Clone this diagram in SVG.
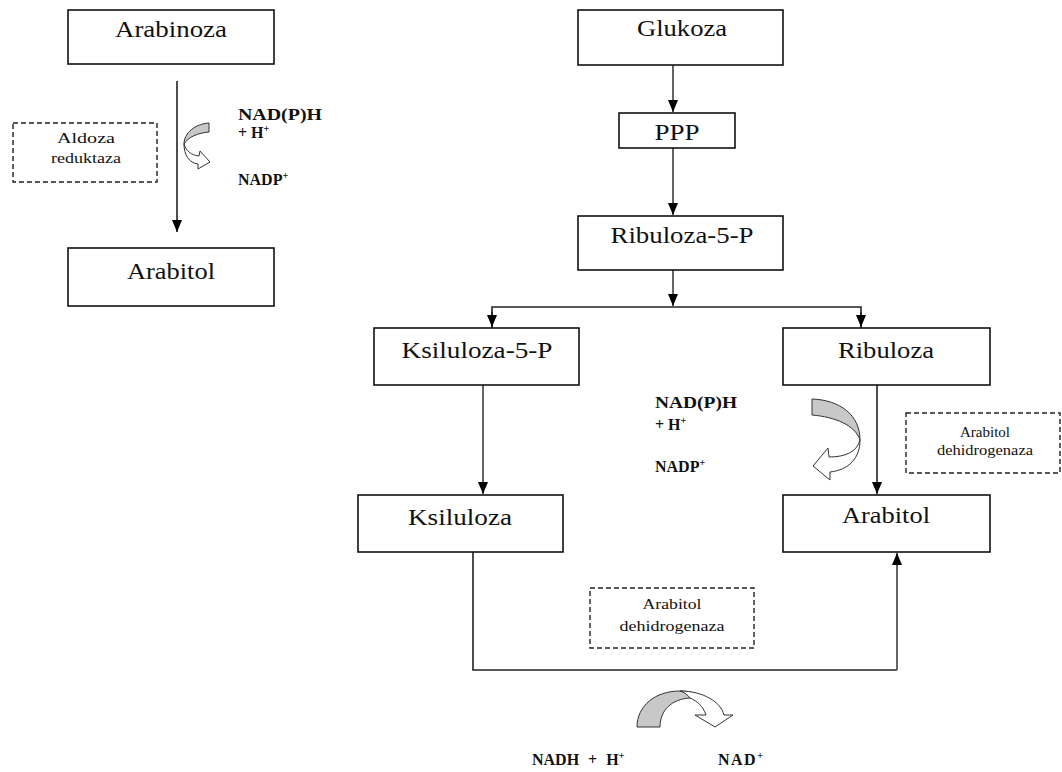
<svg xmlns="http://www.w3.org/2000/svg" width="1062" height="772" viewBox="0 0 1062 772">
<style>
.box{fill:#fff;stroke:#111;stroke-width:1.6}
.dash{fill:#fff;stroke:#222;stroke-width:1.4;stroke-dasharray:5 3}
text{font-family:"Liberation Serif","DejaVu Serif","Noto Serif",serif;fill:#111}
.lbl{font-size:23px;text-anchor:middle}
.sm{font-size:16px;font-weight:bold}
.en{font-size:14px;text-anchor:middle}
.ln{fill:none;stroke:#222;stroke-width:1.6}
.lng{fill:none;stroke:#555;stroke-width:1.8}
.cg{fill:#c8c8c8;stroke:#333;stroke-width:1}
.cw{fill:#fff;stroke:#333;stroke-width:1}
</style>
<defs>
<marker id="ah" viewBox="0 0 12 10" refX="12" refY="5" markerWidth="12" markerHeight="10" markerUnits="userSpaceOnUse" orient="auto">
<path d="M0,0 L12,5 L0,10 Z" fill="#000"/>
</marker>
</defs>

<g id="connectors">
<line class="ln" x1="177" y1="81" x2="177" y2="232" stroke-width="2" marker-end="url(#ah)"/>
<line class="lng" x1="673" y1="65" x2="673" y2="112" marker-end="url(#ah)"/>
<line class="lng" x1="673" y1="148" x2="673" y2="215" marker-end="url(#ah)"/>
<line class="lng" x1="673" y1="270" x2="673" y2="306" marker-end="url(#ah)"/>
<polyline class="ln" points="492,328 492,307 861,307 861,328"/>
<line class="ln" x1="492" y1="312" x2="492" y2="327" marker-end="url(#ah)"/>
<line class="ln" x1="861" y1="312" x2="861" y2="327" marker-end="url(#ah)"/>
<line class="lng" x1="483" y1="385" x2="483" y2="494" marker-end="url(#ah)"/>
<line class="ln" x1="877" y1="385" x2="877" y2="494" marker-end="url(#ah)"/>
<polyline class="ln" points="473,552 473,670 897,670"/>
<line class="lng" x1="897" y1="670" x2="897" y2="553" stroke-width="2.2" marker-end="url(#ah)"/>
<path class="cg" d="M209,123 L209,132 C198,133 188,137 184,144 C184,133 195,124 209,123 Z"/>
<path class="cw" d="M184,144 C186,151 191,155 199,156 L200,151 L210,162 L198,169 L198,164 C189,163 184,155 184,144 Z"/>
<path class="cg" d="M812,399 L812,415 C835,417 855,425 860,440 C860,415 840,400 812,399 Z"/>
<path class="cw" d="M860,440 C857,452 845,457 829,457 L828,448 L813,466 L830,480 L830,472 C849,470 860,458 860,440 Z"/>
<path class="cg" d="M637,727 L660,727 C660,710 672,699 690,698 C697,698 703,699 708,702 C700,694 690,691 680,691 C655,691 637,706 637,727 Z"/>
<path class="cw" d="M680,691 C703,691 721,702 724,715 L733,715 L715,727 L695,715 L706,715 C703,706 697,701 690,698 C688,695 684,692 680,691 Z"/>
</g>

<g id="arabinoza"><rect class="box" x="68" y="10" width="206" height="54"/><text class="lbl" x="171" y="37" textLength="112" lengthAdjust="spacingAndGlyphs">Arabinoza</text></g>
<g id="arabitol-left"><rect class="box" x="68" y="248" width="206" height="58"/><text class="lbl" x="171" y="279" textLength="88" lengthAdjust="spacingAndGlyphs">Arabitol</text></g>
<g id="aldoza-reduktaza"><rect class="dash" x="13" y="123" width="144" height="59"/><text class="en" x="86" y="143" textLength="58" lengthAdjust="spacingAndGlyphs">Aldoza</text><text class="en" x="86" y="163" textLength="70" lengthAdjust="spacingAndGlyphs">reduktaza</text></g>
<g id="cof-left">
<text class="sm" x="238" y="120" textLength="84" lengthAdjust="spacingAndGlyphs">NAD(P)H</text>
<text class="sm" x="238" y="138">+ H<tspan dy="-6" font-size="10">+</tspan></text>
<text class="sm" x="238" y="185">NADP<tspan dy="-6" font-size="10">+</tspan></text>
</g>

<g id="glukoza"><rect class="box" x="578" y="10" width="205" height="55"/><text class="lbl" x="682" y="36" textLength="90" lengthAdjust="spacingAndGlyphs">Glukoza</text></g>
<g id="ppp"><rect class="box" x="619" y="113" width="116" height="35"/><text class="lbl" x="677" y="140" textLength="45" lengthAdjust="spacingAndGlyphs">PPP</text></g>
<g id="ribuloza-5-p"><rect class="box" x="578" y="216" width="205" height="54"/><text class="lbl" x="682" y="243" textLength="143" lengthAdjust="spacingAndGlyphs">Ribuloza-5-P</text></g>
<g id="ksiluloza-5-p"><rect class="box" x="374" y="328" width="205" height="57"/><text class="lbl" x="477" y="358" textLength="151" lengthAdjust="spacingAndGlyphs">Ksiluloza-5-P</text></g>
<g id="ribuloza"><rect class="box" x="783" y="328" width="207" height="57"/><text class="lbl" x="886" y="358" textLength="96" lengthAdjust="spacingAndGlyphs">Ribuloza</text></g>
<g id="ksiluloza"><rect class="box" x="358" y="495" width="205" height="57"/><text class="lbl" x="460" y="525" textLength="104" lengthAdjust="spacingAndGlyphs">Ksiluloza</text></g>
<g id="arabitol-right"><rect class="box" x="783" y="495" width="207" height="57"/><text class="lbl" x="886" y="523" textLength="88" lengthAdjust="spacingAndGlyphs">Arabitol</text></g>
<g id="ad-right"><rect class="dash" x="906" y="413" width="154" height="60"/><text class="en" x="985" y="437" textLength="50" lengthAdjust="spacingAndGlyphs">Arabitol</text><text class="en" x="985" y="455" textLength="96" lengthAdjust="spacingAndGlyphs">dehidrogenaza</text></g>
<g id="cof-right">
<text class="sm" x="655" y="408" textLength="82" lengthAdjust="spacingAndGlyphs">NAD(P)H</text>
<text class="sm" x="655" y="430">+ H<tspan dy="-6" font-size="10">+</tspan></text>
<text class="sm" x="655" y="472">NADP<tspan dy="-6" font-size="10">+</tspan></text>
</g>
<g id="ad-bottom"><rect class="dash" x="590" y="588" width="164" height="60"/><text class="en" x="672" y="609" textLength="59" lengthAdjust="spacingAndGlyphs">Arabitol</text><text class="en" x="672" y="631" textLength="105" lengthAdjust="spacingAndGlyphs">dehidrogenaza</text></g>
<g id="cof-bottom">
<text class="sm" x="532" y="765" word-spacing="5">NADH + H<tspan dy="-6" font-size="10">+</tspan></text>
<text class="sm" x="718" y="765" letter-spacing="1.5">NAD<tspan dy="-6" font-size="10">+</tspan></text>
</g>
</svg>
